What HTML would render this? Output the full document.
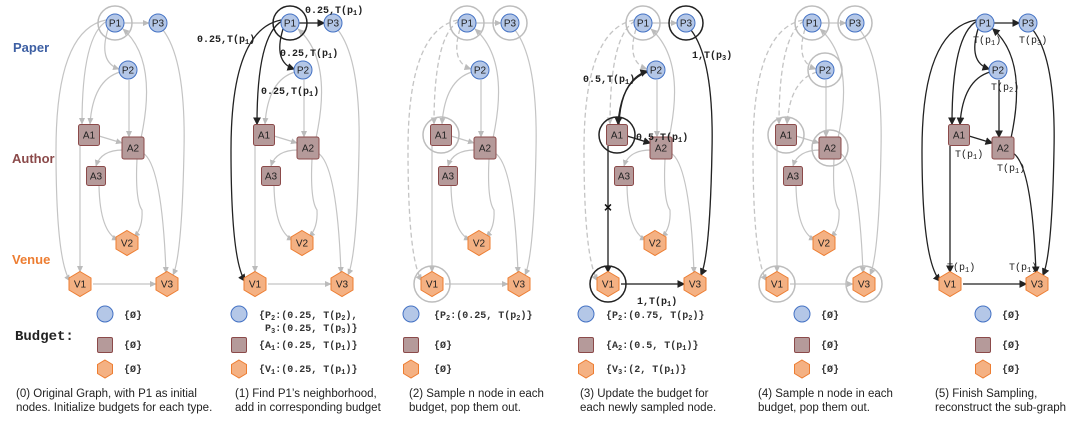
<!DOCTYPE html>
<html><head><meta charset="utf-8"><style>
html,body{margin:0;padding:0;background:#fff}
svg{display:block}
.nt{font-family:"Liberation Sans",sans-serif;font-size:10px;fill:#222;text-anchor:middle}
.m{font-family:"Liberation Mono",monospace;font-size:10px;font-weight:bold;fill:#222}
.c{font-family:"Liberation Sans",sans-serif;font-size:11.5px;fill:#222}
.g{fill:none;stroke:#c4c4c4;stroke-width:1.2}
.gd{fill:none;stroke:#c4c4c4;stroke-width:1.3;stroke-dasharray:5 3}
.b{fill:none;stroke:#222;stroke-width:1.3}
.hg{fill:none;stroke:#bdbdbd;stroke-width:1.5}
.hb{fill:none;stroke:#222;stroke-width:1.5}
.cp{fill:#b4c7e7;stroke:#4472c4;stroke-width:1}
.sq{fill:#b59a9a;stroke:#8b4a4a;stroke-width:1}
.hx{fill:#f4b183;stroke:#ed7d31;stroke-width:1}
</style></head><body>
<svg width="1080" height="428" viewBox="0 0 1080 428" xmlns="http://www.w3.org/2000/svg">
<defs>
<marker id="ag" markerWidth="6" markerHeight="6" refX="5" refY="3" orient="auto"><path d="M0,0.5L5.5,3L0,5.5z" fill="#bbb"/></marker>
<marker id="ab" markerWidth="6" markerHeight="6" refX="5" refY="3" orient="auto"><path d="M0,0L6,3L0,6z" fill="#222"/></marker>
<g id="base">
<path class="g" marker-end="url(#ag)" d="M124,23L149,23"/>
<path class="g" marker-end="url(#ag)" d="M80,146L80,272"/>
<path class="g" marker-end="url(#ag)" d="M129,80L129,137"/>
<path class="g" marker-end="url(#ag)" d="M141,138Q158,60 123,29"/>
<path class="g" marker-end="url(#ag)" d="M99,136L122,143"/>
<path class="g" marker-end="url(#ag)" d="M123,150Q101,150 96,166"/>
<path class="g" marker-end="url(#ag)" d="M99,186Q100,232 118,240"/>
<path class="g" marker-end="url(#ag)" d="M137,159Q135,200 142,210Q143,228 134,237"/>
<path class="g" marker-end="url(#ag)" d="M143,153Q162,165 166,273"/>
<path class="g" marker-end="url(#ag)" d="M163,30Q186,60 184,150Q182,255 173,275"/>
<path class="g" marker-end="url(#ag)" d="M93,284L156,284"/>
</g>
<g id="nodes">
<circle class="cp" cx="115" cy="23" r="9"/><circle class="cp" cx="158" cy="23" r="9"/><circle class="cp" cx="128" cy="70" r="9"/>
<rect class="sq" x="78.5" y="124.5" width="21" height="21" rx="2"/><rect class="sq" x="122" y="137" width="22" height="22" rx="2"/><rect class="sq" x="86.5" y="166.5" width="19" height="19" rx="2"/>
<polygon class="hx" points="127,230.5 138,237 138,249 127,255.5 116,249 116,237"/>
<polygon class="hx" points="80,271.5 91,278 91,290 80,296.5 69,290 69,278"/>
<polygon class="hx" points="167,271.5 178,278 178,290 167,296.5 156,290 156,278"/>
</g>
</defs>

<text x="13" y="52" style="font-family:'Liberation Sans',sans-serif;font-size:13px;font-weight:bold;fill:#3d5fa3">Paper</text>
<text x="12" y="163" style="font-family:'Liberation Sans',sans-serif;font-size:13px;font-weight:bold;fill:#8b4a4a">Author</text>
<text x="12" y="264" style="font-family:'Liberation Sans',sans-serif;font-size:13px;font-weight:bold;fill:#ed7d31">Venue</text>
<text x="15" y="340" style="font-family:'Liberation Mono',monospace;font-size:14px;font-weight:bold;fill:#222">Budget:</text>

<!-- Panel 0 -->
<g>
<use href="#base"/>
<path class="g" marker-end="url(#ag)" d="M108,29Q98,62 119,69"/>
<path class="g" marker-end="url(#ag)" d="M107,21Q82,35 82,124"/>
<path class="g" marker-end="url(#ag)" d="M106,20Q56,30 56,150Q56,260 70,281"/>
<path class="g" marker-end="url(#ag)" d="M120,72Q93,80 90,124"/>
<circle class="hg" cx="115" cy="23" r="17"/>
<use href="#nodes"/>
<g class="nt"><text x="115" y="26.5">P1</text><text x="158" y="26.5">P3</text><text x="128" y="73.5">P2</text><text x="89" y="138.5">A1</text><text x="133" y="151.5">A2</text><text x="96" y="179.5">A3</text><text x="127" y="246.5">V2</text><text x="80" y="287.5">V1</text><text x="167" y="287.5">V3</text></g>
</g>

<!-- Panel 1 -->
<g transform="translate(175,0)">
<use href="#base"/>
<path class="g" marker-end="url(#ag)" d="M120,72Q93,80 90,124"/>
<path class="b" marker-end="url(#ab)" d="M124,23L149,23"/>
<path class="b" marker-end="url(#ab)" d="M108,29Q98,62 119,69"/>
<path class="b" marker-end="url(#ab)" d="M107,21Q82,35 82,124"/>
<path class="b" marker-end="url(#ab)" d="M106,20Q56,30 56,150Q56,260 70,281"/>
<circle class="hb" cx="115" cy="23" r="17"/>
<use href="#nodes"/>
<g class="nt"><text x="115" y="26.5">P1</text><text x="158" y="26.5">P3</text><text x="128" y="73.5">P2</text><text x="89" y="138.5">A1</text><text x="133" y="151.5">A2</text><text x="96" y="179.5">A3</text><text x="127" y="246.5">V2</text><text x="80" y="287.5">V1</text><text x="167" y="287.5">V3</text></g>
</g>
<text class="m" x="305" y="13">0.25,T(p<tspan font-size="7" dy="2">1</tspan><tspan dy="-2">)</tspan></text>
<text class="m" x="197" y="42">0.25,T(p<tspan font-size="7" dy="2">1</tspan><tspan dy="-2">)</tspan></text>
<text class="m" x="280" y="56">0.25,T(p<tspan font-size="7" dy="2">1</tspan><tspan dy="-2">)</tspan></text>
<text class="m" x="261" y="94">0.25,T(p<tspan font-size="7" dy="2">1</tspan><tspan dy="-2">)</tspan></text>

<!-- Panel 2 -->
<g transform="translate(352,0)">
<use href="#base"/>
<path class="g" marker-end="url(#ag)" d="M120,72Q93,80 90,124"/>
<path class="gd" marker-end="url(#ag)" d="M108,29Q98,62 119,69"/>
<path class="gd" marker-end="url(#ag)" d="M107,21Q82,35 82,124"/>
<path class="gd" marker-end="url(#ag)" d="M106,20Q56,30 56,150Q56,260 70,281"/>
<circle class="hg" cx="115" cy="23" r="17"/><circle class="hg" cx="158" cy="23" r="17"/><circle class="hg" cx="89" cy="135" r="18"/><circle class="hg" cx="80" cy="284" r="18"/>
<use href="#nodes"/>
<g class="nt"><text x="115" y="26.5">P1</text><text x="158" y="26.5">P3</text><text x="128" y="73.5">P2</text><text x="89" y="138.5">A1</text><text x="133" y="151.5">A2</text><text x="96" y="179.5">A3</text><text x="127" y="246.5">V2</text><text x="80" y="287.5">V1</text><text x="167" y="287.5">V3</text></g>
</g>

<!-- Panel 3 -->
<g transform="translate(528,0)">
<use href="#base"/>
<path class="gd" marker-end="url(#ag)" d="M108,29Q98,62 119,69"/>
<path class="gd" marker-end="url(#ag)" d="M107,21Q82,35 82,124"/>
<path class="gd" marker-end="url(#ag)" d="M106,20Q56,30 56,150Q56,260 70,281"/>
<path class="b" marker-end="url(#ab)" d="M91,124Q93,80 119,71"/>
<path class="b" marker-end="url(#ab)" d="M120,72Q93,80 90,124"/>
<path class="b" marker-end="url(#ab)" d="M99,136L122,143"/>
<path class="b" marker-end="url(#ab)" d="M80,146L80,272"/>
<path class="b" marker-end="url(#ab)" d="M93,284L156,284"/>
<path class="b" marker-end="url(#ab)" d="M163,30Q186,60 184,150Q182,255 173,275"/>
<circle class="hg" cx="115" cy="23" r="17"/><circle class="hb" cx="158" cy="23" r="17"/><circle class="hb" cx="89" cy="135" r="18"/><circle class="hb" cx="80" cy="284" r="18"/>
<use href="#nodes"/>
<g class="nt"><text x="115" y="26.5">P1</text><text x="158" y="26.5">P3</text><text x="128" y="73.5">P2</text><text x="89" y="138.5">A1</text><text x="133" y="151.5">A2</text><text x="96" y="179.5">A3</text><text x="127" y="246.5">V2</text><text x="80" y="287.5">V1</text><text x="167" y="287.5">V3</text></g>
<text x="80" y="212" style="font-family:'Liberation Sans',sans-serif;font-size:14px;font-weight:bold;fill:#111" text-anchor="middle">×</text>
</g>
<text class="m" x="692" y="58">1,T(p<tspan font-size="7" dy="2">3</tspan><tspan dy="-2">)</tspan></text>
<text class="m" x="583" y="82">0.5,T(p<tspan font-size="7" dy="2">1</tspan><tspan dy="-2">)</tspan></text>
<text class="m" x="636" y="140">0.5,T(p<tspan font-size="7" dy="2">1</tspan><tspan dy="-2">)</tspan></text>
<text class="m" x="637" y="304">1,T(p<tspan font-size="7" dy="2">1</tspan><tspan dy="-2">)</tspan></text>

<!-- Panel 4 -->
<g transform="translate(697,0)">
<use href="#base"/>
<path class="gd" marker-end="url(#ag)" d="M120,72Q93,80 90,124"/>
<path class="gd" marker-end="url(#ag)" d="M108,29Q98,62 119,69"/>
<path class="gd" marker-end="url(#ag)" d="M107,21Q82,35 82,124"/>
<path class="gd" marker-end="url(#ag)" d="M106,20Q56,30 56,150Q56,260 70,281"/>
<circle class="hg" cx="115" cy="23" r="17"/><circle class="hg" cx="158" cy="23" r="17"/><circle class="hg" cx="128" cy="70" r="17"/><circle class="hg" cx="89" cy="135" r="18"/><circle class="hg" cx="133" cy="148" r="18"/><circle class="hg" cx="80" cy="284" r="18"/><circle class="hg" cx="167" cy="284" r="18"/>
<use href="#nodes"/>
<g class="nt"><text x="115" y="26.5">P1</text><text x="158" y="26.5">P3</text><text x="128" y="73.5">P2</text><text x="89" y="138.5">A1</text><text x="133" y="151.5">A2</text><text x="96" y="179.5">A3</text><text x="127" y="246.5">V2</text><text x="80" y="287.5">V1</text><text x="167" y="287.5">V3</text></g>
</g>

<!-- Panel 5 -->
<g transform="translate(870,0)">
<path class="b" marker-end="url(#ab)" d="M124,23L149,23"/>
<path class="b" marker-end="url(#ab)" d="M80,146L80,272"/>
<path class="b" marker-end="url(#ab)" d="M129,80L129,137"/>
<path class="b" marker-end="url(#ab)" d="M141,138Q158,60 123,29"/>
<path class="b" marker-end="url(#ab)" d="M99,136L122,143"/>
<path class="b" marker-end="url(#ab)" d="M143,153Q162,165 166,273"/>
<path class="b" marker-end="url(#ab)" d="M163,30Q186,60 184,150Q182,255 173,275"/>
<path class="b" marker-end="url(#ab)" d="M93,284L156,284"/>
<path class="b" marker-end="url(#ab)" d="M108,29Q98,62 119,69"/>
<path class="b" marker-end="url(#ab)" d="M107,21Q82,35 82,124"/>
<path class="b" marker-end="url(#ab)" d="M106,20Q52,30 52,150Q52,260 70,281"/>
<path class="b" marker-end="url(#ab)" d="M120,72Q93,80 90,124"/>
<circle class="cp" cx="115" cy="23" r="9"/><circle class="cp" cx="158" cy="23" r="9"/><circle class="cp" cx="128" cy="70" r="9"/>
<rect class="sq" x="78.5" y="124.5" width="21" height="21" rx="2"/><rect class="sq" x="122" y="137" width="22" height="22" rx="2"/>
<polygon class="hx" points="80,271.5 91,278 91,290 80,296.5 69,290 69,278"/>
<polygon class="hx" points="167,271.5 178,278 178,290 167,296.5 156,290 156,278"/>
<g class="nt"><text x="115" y="26.5">P1</text><text x="158" y="26.5">P3</text><text x="128" y="73.5">P2</text><text x="89" y="138.5">A1</text><text x="133" y="151.5">A2</text><text x="80" y="287.5">V1</text><text x="167" y="287.5">V3</text></g>
</g>
<g style="font-family:'Liberation Mono',monospace;font-size:10px;fill:#222">
<text x="973" y="43">T(p<tspan font-size="7" dy="2">1</tspan><tspan dy="-2">)</tspan></text>
<text x="1019" y="43">T(p<tspan font-size="7" dy="2">3</tspan><tspan dy="-2">)</tspan></text>
<text x="991" y="90">T(p<tspan font-size="7" dy="2">2</tspan><tspan dy="-2">)</tspan></text>
<text x="955" y="157">T(p<tspan font-size="7" dy="2">1</tspan><tspan dy="-2">)</tspan></text>
<text x="997" y="171">T(p<tspan font-size="7" dy="2">1</tspan><tspan dy="-2">)</tspan></text>
<text x="947" y="270">T(p<tspan font-size="7" dy="2">1</tspan><tspan dy="-2">)</tspan></text>
<text x="1009" y="270">T(p<tspan font-size="7" dy="2">1</tspan><tspan dy="-2">)</tspan></text>
</g>

<!-- Budgets -->
<g id="bud">
<circle class="cp" cx="105" cy="314" r="8"/>
<rect class="sq" x="97.5" y="337.5" width="15" height="15" rx="1.5"/>
<polygon class="hx" points="105,360 112.5,364.5 112.5,373.5 105,378 97.5,373.5 97.5,364.5"/>
</g>
<use href="#bud" x="134"/><use href="#bud" x="306"/><use href="#bud" x="481"/><use href="#bud" x="697"/><use href="#bud" x="878"/>
<g style="font-family:'Liberation Mono',monospace;font-size:10px;font-weight:bold;fill:#333">
<text x="124" y="318">{Ø}</text><text x="124" y="348">{Ø}</text><text x="124" y="372">{Ø}</text>
<text x="259" y="318">{P<tspan font-size="7" dy="2">2</tspan><tspan dy="-2">:(0.25, T(p</tspan><tspan font-size="7" dy="2">2</tspan><tspan dy="-2">),</tspan></text>
<text x="265" y="331">P<tspan font-size="7" dy="2">3</tspan><tspan dy="-2">:(0.25, T(p</tspan><tspan font-size="7" dy="2">3</tspan><tspan dy="-2">)}</tspan></text>
<text x="259" y="348">{A<tspan font-size="7" dy="2">1</tspan><tspan dy="-2">:(0.25, T(p</tspan><tspan font-size="7" dy="2">1</tspan><tspan dy="-2">)}</tspan></text>
<text x="259" y="372">{V<tspan font-size="7" dy="2">1</tspan><tspan dy="-2">:(0.25, T(p</tspan><tspan font-size="7" dy="2">1</tspan><tspan dy="-2">)}</tspan></text>
<text x="434" y="318">{P<tspan font-size="7" dy="2">2</tspan><tspan dy="-2">:(0.25, T(p</tspan><tspan font-size="7" dy="2">2</tspan><tspan dy="-2">)}</tspan></text>
<text x="434" y="348">{Ø}</text><text x="434" y="372">{Ø}</text>
<text x="606" y="318">{P<tspan font-size="7" dy="2">2</tspan><tspan dy="-2">:(0.75, T(p</tspan><tspan font-size="7" dy="2">2</tspan><tspan dy="-2">)}</tspan></text>
<text x="606" y="348">{A<tspan font-size="7" dy="2">2</tspan><tspan dy="-2">:(0.5,  T(p</tspan><tspan font-size="7" dy="2">1</tspan><tspan dy="-2">)}</tspan></text>
<text x="606" y="372">{V<tspan font-size="7" dy="2">3</tspan><tspan dy="-2">:(2,     T(p</tspan><tspan font-size="7" dy="2">1</tspan><tspan dy="-2">)}</tspan></text>
<text x="821" y="318">{Ø}</text><text x="821" y="348">{Ø}</text><text x="821" y="372">{Ø}</text>
<text x="1002" y="318">{Ø}</text><text x="1002" y="348">{Ø}</text><text x="1002" y="372">{Ø}</text>
</g>

<!-- Captions -->
<g class="c">
<text x="16" y="397">(0) Original Graph, with  P1 as initial</text><text x="16" y="411">nodes. Initialize budgets for each type.</text>
<text x="235" y="397">(1) Find P1’s neighborhood,</text><text x="235" y="411">add in corresponding budget</text>
<text x="409" y="397">(2) Sample n node in each</text><text x="409" y="411">budget, pop them out.</text>
<text x="580" y="397">(3) Update the budget for</text><text x="580" y="411">each newly sampled node.</text>
<text x="758" y="397">(4) Sample n node in each</text><text x="758" y="411">budget, pop them out.</text>
<text x="935" y="397">(5) Finish Sampling,</text><text x="935" y="411">reconstruct the sub-graph</text>
</g>
</svg>
</body></html>
